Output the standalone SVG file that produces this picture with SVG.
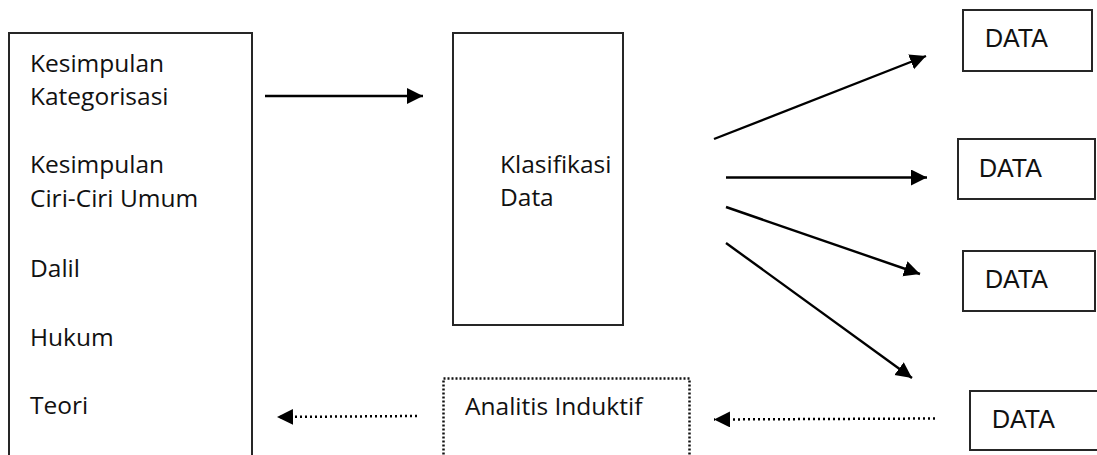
<svg xmlns="http://www.w3.org/2000/svg" width="1097" height="455" viewBox="0 0 1097 455">
<defs>
<style>
.box{fill:none;stroke:#262626;stroke-width:2}
.dbox{fill:none;stroke:#111;stroke-width:2.5;stroke-dasharray:2 2}
.t{font-family:"Open Sans","Noto Sans",sans-serif;font-size:24.5px;fill:#111}
.d{font-family:"Liberation Sans",Arial,sans-serif;font-size:25px;fill:#111}
.ln{stroke:#000;stroke-width:2.4;fill:none}
.dl{stroke:#000;stroke-width:2.5;fill:none;stroke-dasharray:2 3}
</style>
<marker id="ah" markerUnits="userSpaceOnUse" markerWidth="18" markerHeight="17" refX="16" refY="8" orient="auto">
<path d="M0,0 L16,8 L0,16 Z" fill="#000"/>
</marker>
</defs>
<rect width="1097" height="455" fill="#fff"/>
<g id="left-box">
<rect class="box" x="9" y="33" width="243" height="440"/>
<text class="t" x="30" y="72">Kesimpulan</text>
<text class="t" x="30" y="105">Kategorisasi</text>
<text class="t" x="30" y="173">Kesimpulan</text>
<text class="t" x="30" y="207">Ciri-Ciri Umum</text>
<text class="t" x="30" y="277">Dalil</text>
<text class="t" x="30" y="346">Hukum</text>
<text class="t" x="30" y="414">Teori</text>
</g>
<g id="klasifikasi">
<rect class="box" x="453" y="33" width="170" height="292"/>
<text class="t" x="500" y="173">Klasifikasi</text>
<text class="t" x="500" y="206">Data</text>
</g>
<g id="analitis">
<rect class="dbox" x="443.5" y="378.5" width="246" height="100"/>
<text class="t" x="465" y="415">Analitis Induktif</text>
</g>
<g id="data1">
<rect class="box" x="963" y="10" width="129" height="61"/>
<text class="d" x="985" y="47">DATA</text>
</g>
<g id="data2">
<rect class="box" x="958" y="139" width="137" height="60"/>
<text class="d" x="979" y="177">DATA</text>
</g>
<g id="data3">
<rect class="box" x="963" y="251" width="132" height="60"/>
<text class="d" x="985" y="288">DATA</text>
</g>
<g id="data4">
<rect class="box" x="970" y="391" width="140" height="59"/>
<text class="d" x="992" y="428">DATA</text>
</g>
<g id="connectors">
<line class="ln" x1="265" y1="96" x2="423" y2="96" marker-end="url(#ah)"/>
<line class="ln" x1="714" y1="139" x2="926" y2="56" marker-end="url(#ah)"/>
<line class="ln" x1="726" y1="177.5" x2="927" y2="177.5" marker-end="url(#ah)"/>
<line class="ln" x1="726" y1="207" x2="920" y2="274" marker-end="url(#ah)"/>
<line class="ln" x1="726" y1="243" x2="912" y2="378" marker-end="url(#ah)"/>
<line class="dl" x1="935" y1="418.5" x2="714" y2="419.5" marker-end="url(#ah)"/>
<line class="dl" x1="417" y1="416" x2="277" y2="417" marker-end="url(#ah)"/>
</g>
</svg>
